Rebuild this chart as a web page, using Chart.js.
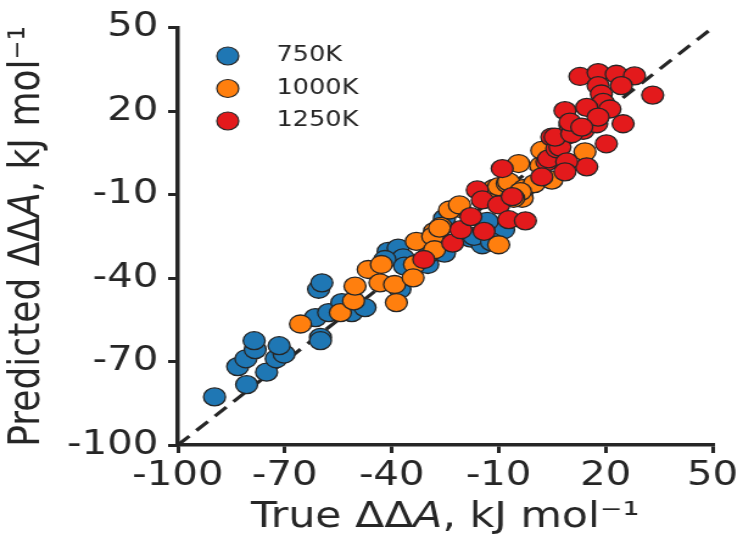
<!DOCTYPE html>
<html>
<head>
<meta charset="utf-8">
<title>Predicted vs true ΔΔA</title>
<script src="https://cdn.jsdelivr.net/npm/chart.js@4"></script>
<style>
  html, body { margin: 0; padding: 0; background: #fff; }
</style>
</head>
<body>
<!-- the reference is a horizontally stretched figure, so draw narrow and stretch -->
<canvas id="chart" width="610" height="539" style="display:block;width:743px;height:539px"></canvas>
<script>
// ====================== Data ======================
const SERIES_LABELS = ["750K", "1000K", "1250K"];
const SERIES_COLORS = ["#1f77b4", "#ff7f0e", "#e31a1c"];

const X_750 = [-89.7, -80.7, -83.2, -80.9, -78.3, -78.6, -75.1, -72.4, -70.2, -71.6,
  -60.5, -59.6, -60, -60, -61.4, -57.7, -54, -51.2, -47.5, -41, -38.2, -36.8, -41.9,
  -37.7, -29.9, -29.4, -25.2, -25.2, -17.8, -14.6, -16.9, -10, -8.6, -13.2, -36.4, -12];
const Y_750 = [-82.7, -78.3, -71.8, -69, -65.7, -62.5, -73.8, -69, -67.3, -64.3,
  -44, -41.7, -61.3, -62.5, -54.2, -52.4, -48.8, -52.4, -50.6, -30.4, -29.2, -32.7, -33.3,
  -44, -35.1, -31, -18.5, -31, -25.6, -28, -25, -23.2, -22.6, -19.6, -35.7, -27];

const X_1000 = [-65.6, -54.4, -50.7, -50.3, -46.6, -42.9, -43.3, -39.2, -38.7, -33.1,
  -33.6, -34, -28, -28.5, -28, -26.2, -21, -23.8, -21, -26.6, -10, -10.4, -11.3, -10,
  -7.6, -7.2, -2.8, 0, -3.4, -3.9, -4.4, 1.8, 2.1, 14.2, 4.9, -5.8];
const Y_1000 = [-56.5, -52.4, -48.2, -42.9, -36.9, -35.1, -41.7, -42.3, -48.8, -26.8,
  -35.1, -39.9, -23.2, -25, -29.8, -21.4, -14.9, -15.5, -13.7, -22, -28, -10.1, -7.7, -7.1,
  -6, -5.4, -7.7, -6, -11.3, -8.9, 1.2, 0.4, 5.9, 5.4, -4.8, -11.3];

const X_1250 = [-31, -22.9, -20.6, -17.8, -14.1, -16, -14.6, -10, -6.2, -7.2, -2.5, -9,
  3.5, 4, 4.9, 9.1, 6.3, 7.2, 5.8, 20.2, 14.7, 9.1, 8.6, 2.1, 10, 13.7, 17.5, 24.9, 10.5,
  12.8, 17.9, 17.9, 23, 28.1, 24.4, 33.2, 18.8, 19.3, 8.6, 14.7, 21.2, 17.9, 10, 13.3];
const Y_1250 = [-33.3, -27.4, -22.6, -17.9, -23.2, -8.3, -11.9, -13.7, -10.7, -19, -19.4, -0.6,
  1.8, 2.9, 10.7, 11.3, 6.5, 7.1, 10.7, 8.3, 0, 1.8, -1.8, -3.6, 14.9, 13.1, 15.5, 15.5, 11.9,
  32.5, 33.9, 29.2, 33.3, 32.7, 29.2, 25.8, 26.2, 23.2, 20.2, 21.4, 20.8, 17.9, 16.1, 14.3];

const DIAGONAL = [-100, 50];
const AXIS_MIN = -100;
const AXIS_MAX = 50;
const AXIS_STEP = 30;

const X_TITLE = ["True ΔΔ", "A", ", kJ mol⁻¹"];
const Y_TITLE = ["Predicted ΔΔ", "A", ", kJ mol⁻¹"];

const INK = "#262626";
const FONT = "'DejaVu Sans', sans-serif";

function toPoints(xs, ys) {
  return xs.map((x, i) => ({ x: x, y: ys[i] }));
}

// ====================== Plugins ======================
// legend drawn inside the plot, top left
const insideLegend = {
  id: "insideLegend",
  afterDatasetsDraw(chart) {
    const ctx = chart.ctx;
    ctx.save();
    SERIES_LABELS.forEach((label, i) => {
      const y = 56 + i * 32.5;
      ctx.beginPath();
      ctx.arc(187, y, 9, 0, Math.PI * 2);
      ctx.fillStyle = SERIES_COLORS[i];
      ctx.fill();
      ctx.lineWidth = 1.2;
      ctx.strokeStyle = INK;
      ctx.stroke();
      ctx.fillStyle = INK;
      ctx.font = "21px " + FONT;
      ctx.textBaseline = "middle";
      ctx.textAlign = "left";
      ctx.fillText(label, 227, y);
    });
    ctx.restore();
  }
};

// axis titles with an italic A
function drawMixed(ctx, parts, size) {
  const fonts = parts.map((_, i) => (i === 1 ? "italic " : "") + size + "px " + FONT);
  let total = 0;
  const widths = parts.map((p, i) => { ctx.font = fonts[i]; const w = ctx.measureText(p).width; total += w; return w; });
  let x = -total / 2;
  parts.forEach((p, i) => {
    ctx.font = fonts[i];
    ctx.fillText(p, x, 0);
    x += widths[i];
  });
}

const axisTitles = {
  id: "axisTitles",
  afterDraw(chart) {
    const ctx = chart.ctx;
    const area = chart.chartArea;
    ctx.save();
    ctx.fillStyle = INK;
    ctx.textBaseline = "middle";
    ctx.textAlign = "left";
    ctx.translate((area.left + area.right) / 2, 518);
    drawMixed(ctx, X_TITLE, 35);
    ctx.restore();

    ctx.save();
    ctx.fillStyle = INK;
    ctx.textBaseline = "middle";
    ctx.textAlign = "left";
    ctx.translate(23, (area.top + area.bottom) / 2);
    ctx.rotate(-Math.PI / 2);
    drawMixed(ctx, Y_TITLE, 36);
    ctx.restore();
  }
};

// ====================== Chart ======================
const scatterSets = [X_750, X_1000, X_1250].map((xs, i) => ({
  type: "scatter",
  label: SERIES_LABELS[i],
  data: toPoints(xs, [Y_750, Y_1000, Y_1250][i]),
  backgroundColor: SERIES_COLORS[i],
  borderColor: INK,
  borderWidth: 1.3,
  pointRadius: 9,
  pointHoverRadius: 9,
  order: 3 - i
}));

const axisStyle = {
  type: "linear",
  min: AXIS_MIN,
  max: AXIS_MAX,
  border: { display: true, color: INK, width: 3.5 },
  grid: { display: true, drawOnChartArea: false, drawTicks: true, tickLength: 8, color: INK, lineWidth: 3 },
  ticks: { stepSize: AXIS_STEP, color: INK, font: { family: FONT, size: 33 } }
};

new Chart(document.getElementById("chart"), {
  data: {
    datasets: [
      ...scatterSets,
      {
        type: "line",
        label: "y = x",
        data: toPoints(DIAGONAL, DIAGONAL),
        borderColor: INK,
        borderWidth: 3.2,
        borderDash: [13, 8],
        pointRadius: 0,
        fill: false,
        order: 4
      }
    ]
  },
  options: {
    responsive: false,
    animation: false,
    devicePixelRatio: 1,
    layout: { padding: { top: 25, right: 22, bottom: 0, left: 0 } },
    plugins: { legend: { display: false }, tooltip: { enabled: false } },
    scales: {
      x: {
        ...axisStyle,
        position: "bottom",
        ticks: { ...axisStyle.ticks, padding: 4, maxRotation: 0 },
        afterFit(scale) { scale.height = 94; }
      },
      y: {
        ...axisStyle,
        position: "left",
        ticks: { ...axisStyle.ticks, padding: 8 },
        afterFit(scale) { scale.width = 146; }
      }
    }
  },
  plugins: [insideLegend, axisTitles]
});
</script>
</body>
</html>
